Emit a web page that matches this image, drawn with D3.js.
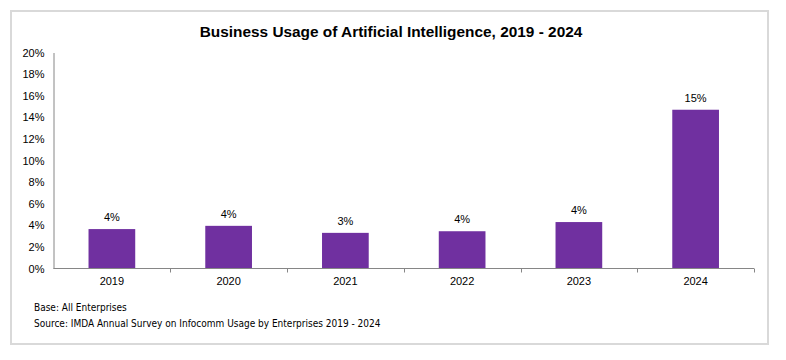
<!DOCTYPE html>
<html>
<head>
<meta charset="utf-8">
<script src="https://cdn.jsdelivr.net/npm/d3@7"></script>
<style>
  html, body { margin: 0; padding: 0; background: #fff; }
  svg { display: block; }
  text { font-family: "Liberation Sans", Arial, sans-serif; fill: #000; }
</style>
</head>
<body>
<div id="chart"></div>
<script>
const title = "Business Usage of Artificial Intelligence, 2019 - 2024";
const categories = ["2019", "2020", "2021", "2022", "2023", "2024"];
const values = [3.65, 3.95, 3.3, 3.45, 4.3, 14.7];
const valueLabels = ["4%", "4%", "3%", "4%", "4%", "15%"];
const yTicks = [0, 2, 4, 6, 8, 10, 12, 14, 16, 18, 20];
const notes = ["Base: All Enterprises", "Source: IMDA Annual Survey on Infocomm Usage by Enterprises 2019 - 2024"];

const W = 786, H = 360;
const svg = d3.select("#chart").append("svg").attr("width", W).attr("height", H);

// frame
svg.append("rect").attr("x", 11).attr("y", 11).attr("width", 757).attr("height", 333)
  .attr("fill", "#fff").attr("stroke", "#d9d9d9").attr("stroke-width", 2);

const plot = { left: 53.5, right: 754, top: 52.5, bottom: 268.5 };

const x = d3.scaleBand().domain(categories).range([plot.left, plot.right]).paddingInner(0).paddingOuter(0);
const y = d3.scaleLinear().domain([0, 20]).range([plot.bottom, plot.top]);

// title
svg.append("text").attr("x", 391).attr("y", 36.5).attr("text-anchor", "middle")
  .style("font-size", "15.4px").style("font-weight", "bold").text(title);

// y axis
const yAxis = svg.append("g").attr("transform", `translate(${plot.left},0)`)
  .call(d3.axisLeft(y).tickValues(yTicks).tickSize(0).tickPadding(9).tickFormat(d => d + "%"));
yAxis.select(".domain").attr("stroke", "#868686");
yAxis.selectAll("text").style("font-size", "11px").style("font-family", "'Liberation Sans', Arial, sans-serif").attr("fill", "#000");

// bars
const barW = x.bandwidth() * 0.4;
svg.append("g").selectAll("rect").data(values).join("rect")
  .attr("x", (d, i) => x(categories[i]) + (x.bandwidth() - barW) / 2)
  .attr("y", d => y(d))
  .attr("width", barW)
  .attr("height", d => y(0) - y(d))
  .attr("fill", "#7030a0");

// value labels
svg.append("g").selectAll("text").data(values).join("text")
  .attr("x", (d, i) => x(categories[i]) + x.bandwidth() / 2)
  .attr("y", d => y(d) - 8)
  .attr("text-anchor", "middle")
  .style("font-size", "11px")
  .text((d, i) => valueLabels[i]);

// x axis
const xg = svg.append("g");
xg.append("line").attr("x1", plot.left).attr("x2", plot.right)
  .attr("y1", plot.bottom).attr("y2", plot.bottom).attr("stroke", "#868686");
const boundaries = categories.map(c => x(c)).concat([x(categories[categories.length - 1]) + x.bandwidth()]);
xg.selectAll("line.tick").data(boundaries.slice(1)).join("line").attr("class", "tick")
  .attr("x1", d => Math.round(d) + 0.5).attr("x2", d => Math.round(d) + 0.5)
  .attr("y1", plot.bottom).attr("y2", plot.bottom + 4).attr("stroke", "#868686");
xg.selectAll("text").data(categories).join("text")
  .attr("x", d => x(d) + x.bandwidth() / 2)
  .attr("y", 285)
  .attr("text-anchor", "middle")
  .style("font-size", "11px")
  .text(d => d);

// notes
svg.append("g").selectAll("text").data(notes).join("text")
  .attr("x", 34).attr("y", (d, i) => 311 + i * 16)
  .style("font-size", "10px")
  .style("font-family", "'DejaVu Sans Condensed', 'Liberation Sans', sans-serif")
  .text(d => d);
</script>
</body>
</html>
